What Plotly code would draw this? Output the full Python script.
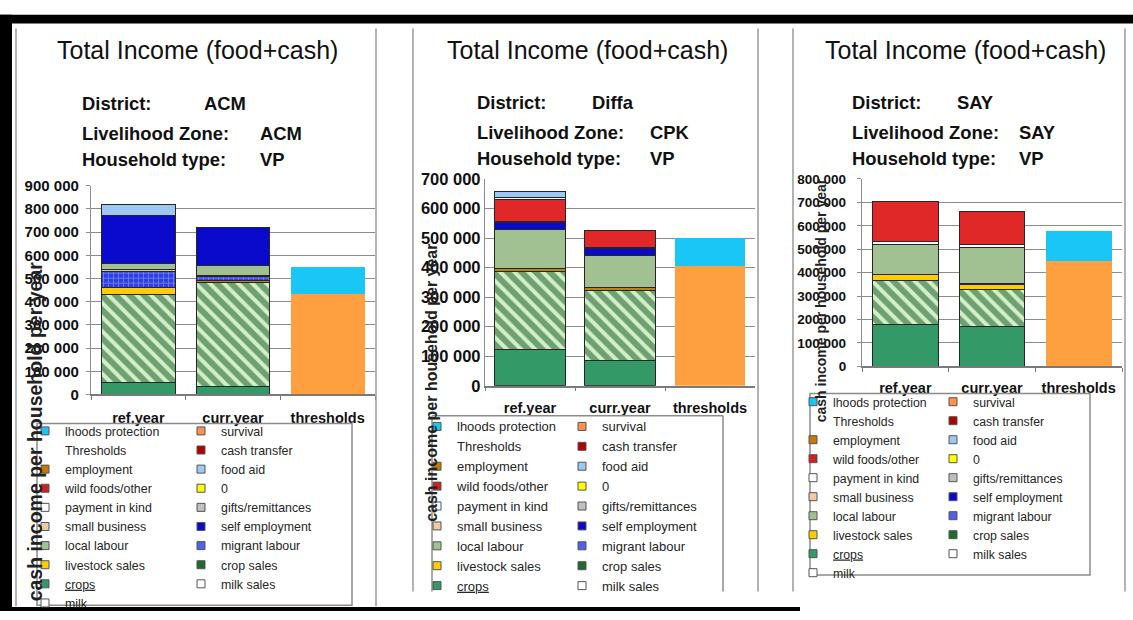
import plotly.graph_objects as go

W, H = 1133, 620

# ---------------- data ----------------
CATEGORIES = ["ref.year", "curr.year", "thresholds"]

STACK_ORDER = ["crops", "crop sales", "livestock sales", "employment", "migrant labour",
               "gifts/remittances", "local labour", "milk sales", "self employment",
               "cash transfer", "wild foods/other", "payment in kind", "food aid",
               "survival", "lhoods protection"]

ACM_REF = [50000, 382000, 28000, 0, 70000, 7000, 28000, 0, 205000, 0, 0, 0, 50000, 0, 0]
ACM_CURR = [35000, 446000, 0, 12000, 14000, 7000, 44000, 0, 160000, 0, 0, 0, 0, 0, 0]
ACM_THR = [0, 0, 0, 0, 0, 0, 0, 0, 0, 0, 0, 0, 0, 432000, 119000]

DIFFA_REF = [124000, 263000, 0, 9000, 0, 0, 134000, 0, 22000, 4000, 75000, 7000, 18000, 0, 0]
DIFFA_CURR = [86000, 236000, 0, 11000, 0, 0, 109000, 0, 22000, 3000, 58000, 0, 0, 0, 0]
DIFFA_THR = [0, 0, 0, 0, 0, 0, 0, 0, 0, 0, 0, 0, 0, 405000, 95000]

SAY_REF = [179000, 186000, 25000, 4000, 0, 0, 126000, 14000, 0, 0, 170000, 0, 0, 0, 0]
SAY_CURR = [172000, 155000, 22000, 5000, 0, 0, 152000, 14000, 0, 0, 142000, 0, 0, 0, 0]
SAY_THR = [0, 0, 0, 0, 0, 0, 0, 0, 0, 0, 0, 0, 0, 448000, 131000]

Y_MAX = [900000, 700000, 800000]
Y_DTICK = 100000

TITLE = "Total Income (food+cash)"
DISTRICTS = ["ACM", "Diffa", "SAY"]
ZONES = ["ACM", "CPK", "SAY"]
HH_TYPES = ["VP", "VP", "VP"]
Y_TITLE = "cash income per household per year"

LEGEND_LEFT = ["lhoods protection", "Thresholds", "employment", "wild foods/other",
               "payment in kind", "small business", "local labour", "livestock sales",
               "crops", "milk"]
LEGEND_RIGHT = ["survival", "cash transfer", "food aid", "0", "gifts/remittances",
                "self employment", "migrant labour", "crop sales", "milk sales"]

# ---------------- styles ----------------
BAR_STYLE = {
    "crops": dict(color="#339966"),
    "crop sales": dict(color="#D2F0C6", pattern=dict(shape="\\", fgcolor="#0B5020",
                                                     bgcolor="#D2F0C6", size=10, solidity=0.6)),
    "livestock sales": dict(color="#FFCC00"),
    "employment": dict(color="#B8860B"),
    "migrant labour": dict(color="#2F3FE8", pattern=dict(shape="+", fgcolor="#B8C4FF",
                                                         bgcolor="#2F3FE8", size=5, solidity=0.3)),
    "gifts/remittances": dict(color="#C8C8C8"),
    "local labour": dict(color="#A2C192"),
    "milk sales": dict(color="#FFFFFF"),
    "self employment": dict(color="#0A0ACD"),
    "cash transfer": dict(color="#8B1A1A"),
    "wild foods/other": dict(color="#E02828"),
    "payment in kind": dict(color="#F4F4F4"),
    "food aid": dict(color="#9CC8F4"),
    "survival": dict(color="#FFA040"),
    "lhoods protection": dict(color="#19C6F5"),
}

LEGEND_COLOR = {
    "lhoods protection": "#19C6F5", "Thresholds": "rgba(0,0,0,0)", "employment": "#C87800",
    "wild foods/other": "#D02020", "payment in kind": "#FFFFFF", "small business": "#F2C9A0",
    "local labour": "#A2C192", "livestock sales": "#FFCC00", "crops": "#339966",
    "milk": "#FFFFFF", "survival": "#FF9050", "cash transfer": "#B00000",
    "food aid": "#9CC8F4", "0": "#FFFF00", "gifts/remittances": "#C0C0C0",
    "self employment": "#0A0ACD", "migrant labour": "#5060E8", "crop sales": "#1E6B2E",
    "milk sales": "#FFFFFF",
}

# panel geometry (pixels)
PANELS = [
    dict(ref=ACM_REF, curr=ACM_CURR, thr=ACM_THR,
         plot=(91, 375, 182, 397), barw=0.78, tickfs=15, ystand=4, yticklen=4, xstand=9,
         title_c=(197.5, 42), lab_x=80, val_x=(202, 258, 258), rows=(97, 128, 155),
         ytitle=(35, 435, 19.5),
         leg_left=(25, 419.5), leg_right=(181, 419.5), leg_fs=12.4, n_left=10,
         box=(37, 352, 427, 614), frame=(16, 376, 20, 615)),
    dict(ref=DIFFA_REF, curr=DIFFA_CURR, thr=DIFFA_THR,
         plot=(485, 755, 175, 388), barw=0.78, tickfs=16.5, ystand=0, yticklen=0, xstand=8,
         title_c=(587.5, 42), lab_x=475, val_x=(590, 648, 648), rows=(96, 127, 154),
         ytitle=(432, 385, 16),
         leg_left=(417, 414.5), leg_right=(562, 414.5), leg_fs=13, n_left=9,
         box=(432, 723, 419, None), frame=(413, 758, 20, 600)),
    dict(ref=SAY_REF, curr=SAY_CURR, thr=SAY_THR,
         plot=(862, 1122, 175, 368), barw=0.76, tickfs=13.5, ystand=8, yticklen=4, xstand=8,
         title_c=(965, 42), lab_x=850, val_x=(955, 1017, 1017), rows=(96, 127, 154),
         ytitle=(821, 300, 14),
         leg_left=(793, 389.5), leg_right=(933, 389.5), leg_fs=12.3, n_left=10,
         box=(810, 1090, 396, 583), frame=(793, 1125, 20, 600)),
]

FONT = "Liberation Sans, Arial, sans-serif"


def fx(x):
    return x / W


def fy(y):
    return 1 - y / H


fig = go.Figure()
layout = dict(width=W, height=H, margin=dict(l=0, r=0, t=0, b=0),
              paper_bgcolor="white", plot_bgcolor="white", barmode="stack",
              separators=". ", font=dict(family=FONT, color="#111"))
annotations = []
shapes = []

legend_idx = 0
for p, pan in enumerate(PANELS):
    sfx = "" if p == 0 else str(p + 1)
    xa, ya = "x" + sfx, "y" + sfx
    for i, cat in enumerate(STACK_ORDER):
        vals = [pan["ref"][i], pan["curr"][i], pan["thr"][i]]
        yv = [v if v else None for v in vals]
        if all(v is None for v in yv):
            continue
        st = BAR_STYLE[cat]
        is_thr = cat in ("survival", "lhoods protection")
        marker = dict(color=st["color"],
                      line=dict(color="#262626", width=0 if is_thr else 1))
        if "pattern" in st:
            marker["pattern"] = st["pattern"]
        fig.add_trace(go.Bar(x=CATEGORIES, y=yv, name=cat, marker=marker,
                             width=pan["barw"], xaxis=xa, yaxis=ya,
                             showlegend=False, hoverinfo="name+y"))

    # legend entries (two columns)
    left_items = LEGEND_LEFT[:pan["n_left"]]
    for col, items in enumerate([left_items, LEGEND_RIGHT]):
        legend_idx += 1
        lname = "legend" if legend_idx == 1 else "legend%d" % legend_idx
        for item in items:
            col_c = LEGEND_COLOR[item]
            label = "<u>crops</u>" if item == "crops" else item
            fig.add_trace(go.Scatter(
                x=[None], y=[None], mode="markers", name=label, legend=lname,
                marker=dict(symbol="square", size=8, color=col_c,
                            line=dict(color="#555555" if item != "Thresholds" else "rgba(0,0,0,0)",
                                      width=1 if item != "Thresholds" else 0)),
                xaxis=xa, yaxis=ya, showlegend=True, hoverinfo="skip"))
        lx, ly = pan["leg_left"] if col == 0 else pan["leg_right"]
        layout[lname] = dict(x=fx(lx), y=fy(ly), xanchor="left", yanchor="top",
                             orientation="v", bgcolor="rgba(0,0,0,0)", borderwidth=0,
                             traceorder="normal", tracegroupgap=0,
                             itemclick=False, itemdoubleclick=False,
                             font=dict(family=FONT, size=pan["leg_fs"], color="#262626"))

    x0, x1, y0, y1 = pan["plot"]
    layout["xaxis" + sfx] = dict(
        domain=[fx(x0), fx(x1)], anchor=ya, type="category",
        categoryorder="array", categoryarray=CATEGORIES,
        tickson="boundaries", ticks="outside", ticklen=4, tickcolor="#7a7a7a",
        showline=True, linecolor="#7a7a7a", linewidth=1.5, mirror=False,
        showgrid=False, ticklabelstandoff=pan["xstand"],
        tickfont=dict(family=FONT, size=14.5, color="#111", weight="bold"),
        fixedrange=True)
    layout["yaxis" + sfx] = dict(
        domain=[fy(y1), fy(y0)], anchor=xa, range=[0, Y_MAX[p]], dtick=Y_DTICK,
        tick0=0, tickformat=",d", showgrid=True, gridcolor="#8c8c8c", gridwidth=1.3,
        zeroline=False, showline=True, linecolor="#8c8c8c", linewidth=1.3,
        ticks="outside" if pan["yticklen"] else "", ticklen=pan["yticklen"],
        tickcolor="#8c8c8c", ticklabelstandoff=pan["ystand"],
        tickfont=dict(family=FONT, size=pan["tickfs"], color="#111", weight="bold"),
        fixedrange=True)

    # header texts
    tx, ty = pan["title_c"]
    annotations.append(dict(text=TITLE, x=fx(tx), y=fy(ty), xref="paper", yref="paper",
                            xanchor="center", yanchor="middle", showarrow=False,
                            font=dict(family=FONT, size=25, color="#111")))
    labels = ["District:", "Livelihood Zone:", "Household type:"]
    values = [DISTRICTS[p], ZONES[p], HH_TYPES[p]]
    for r in range(3):
        annotations.append(dict(text=labels[r], x=fx(pan["lab_x"]), y=fy(pan["rows"][r]),
                                xref="paper", yref="paper", xanchor="left", yanchor="middle",
                                showarrow=False,
                                font=dict(family=FONT, size=18.4, color="#111", weight="bold")))
        annotations.append(dict(text=values[r], x=fx(pan["val_x"][r]), y=fy(pan["rows"][r]),
                                xref="paper", yref="paper", xanchor="left", yanchor="middle",
                                showarrow=False,
                                font=dict(family=FONT, size=18.4, color="#111", weight="bold")))
    ytx, yty, ytfs = pan["ytitle"]
    annotations.append(dict(text=Y_TITLE, x=fx(ytx), y=fy(yty), xref="paper", yref="paper",
                            xanchor="center", yanchor="middle", showarrow=False, textangle=-90,
                            font=dict(family=FONT, size=ytfs, color="#222", weight="bold")))

    # panel frame lines
    fl, fr, ft, fb = pan["frame"]
    for xx in (fl, fr):
        shapes.append(dict(type="line", xref="paper", yref="paper", x0=fx(xx), x1=fx(xx),
                           y0=fy(ft), y1=fy(fb), line=dict(color="#9a9a9a", width=1.5)))
    # legend box
    bl, br, bt, bb = pan["box"]
    if bb is None:
        for xx in (bl, br):
            shapes.append(dict(type="line", xref="paper", yref="paper", x0=fx(xx), x1=fx(xx),
                               y0=fy(bt), y1=fy(600), line=dict(color="#8c8c8c", width=1.5)))
        shapes.append(dict(type="line", xref="paper", yref="paper", x0=fx(bl), x1=fx(br),
                           y0=fy(bt), y1=fy(bt), line=dict(color="#8c8c8c", width=1.5)))
    else:
        shapes.append(dict(type="rect", xref="paper", yref="paper", x0=fx(bl), x1=fx(br),
                           y0=fy(bb), y1=fy(bt), line=dict(color="#8c8c8c", width=1.5)))

# outer black frame
shapes.append(dict(type="rect", xref="paper", yref="paper", x0=0, x1=1, y0=fy(15), y1=fy(6),
                   fillcolor="black", line=dict(width=0)))
shapes.append(dict(type="rect", xref="paper", yref="paper", x0=0, x1=fx(12), y0=0, y1=fy(6),
                   fillcolor="black", line=dict(width=0)))
shapes.append(dict(type="rect", xref="paper", yref="paper", x0=0, x1=fx(800), y0=0, y1=fy(616),
                   fillcolor="black", line=dict(width=0)))

layout["annotations"] = annotations
layout["shapes"] = shapes
fig.update_layout(**layout)

fig.write_html("out.html", config={"displayModeBar": False},
               post_script="document.body.style.margin='0';document.body.style.padding='0';")
